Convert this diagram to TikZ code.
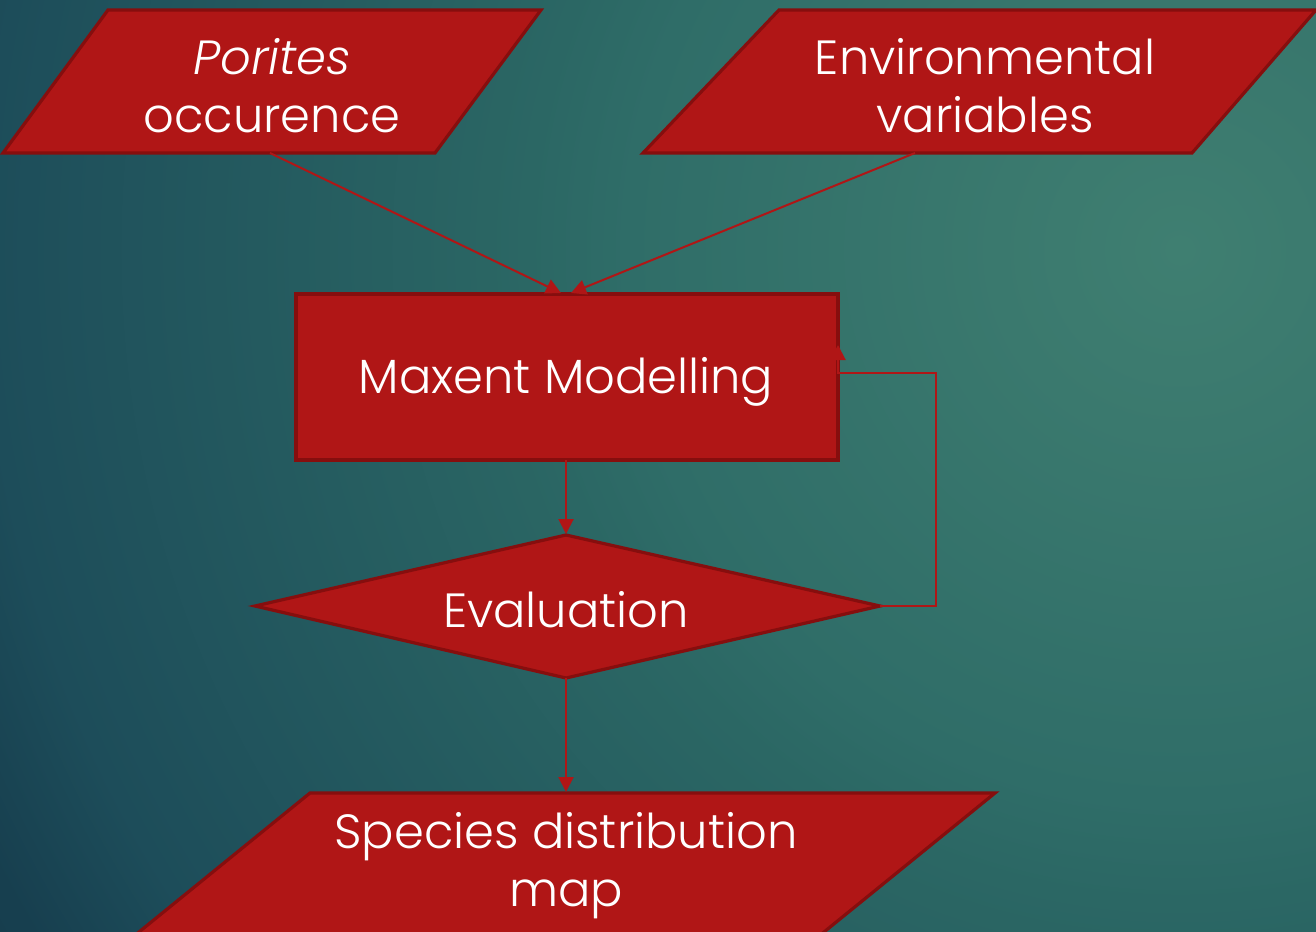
\documentclass[tikz,border=0pt]{standalone}
\usepackage{fontspec}
\setmainfont{Poppins}[UprightFont=* Light, ItalicFont=* Light Italic]
\usetikzlibrary{arrows.meta}
\definecolor{boxfill}{HTML}{B01616}
\definecolor{boxline}{HTML}{860E0E}
\definecolor{bgA}{HTML}{3F7F71}
\definecolor{bgB}{HTML}{3C7B6F}
\definecolor{bgC}{HTML}{2F6D68}
\definecolor{bgD}{HTML}{2B6764}
\definecolor{bgE}{HTML}{1D4D5A}
\definecolor{bgF}{HTML}{173F4F}
\definecolor{bgG}{HTML}{153B4B}
% backdrop glow, stops given at natural size
\pgfdeclareradialshading{backdrop}{\pgfpoint{0bp}{0bp}}{%
  color(0bp)=(bgA); color(60bp)=(bgB); color(275bp)=(bgC); color(325bp)=(bgD);
  color(595bp)=(bgE); color(665bp)=(bgF); color(750bp)=(bgG)}
\tikzset{
  box/.style={fill=boxfill, draw=boxline, line width=1.6pt, line join=miter},
  caption/.style={text=white, font=\fontsize{24}{29}\selectfont, align=center, inner sep=0pt},
  flow/.style={draw=boxfill, line width=1pt, -{Triangle[length=7.5pt,width=7.5pt]}}
}
\begin{document}
\begin{tikzpicture}[x=0.5pt,y=-0.5pt]
\useasboundingbox (0,0) rectangle (1316,931);
% background
\begin{scope}
  \clip (0,0) rectangle (1316,931);
  \node[inner sep=0pt, outer sep=0pt] (glow) at (1180,250) {\pgfuseshading{backdrop}};
\end{scope}

% input parallelograms
\draw[box] (108,10) -- (541,10) -- (435,153) -- (3,153) -- cycle;
\coordinate (porB) at (270,153);
\node[caption] (por) at (272,86) {\itshape Porites\\occurence};

\draw[box] (779,10) -- (1316,10) -- (1192,153) -- (643,153) -- cycle;
\coordinate (envB) at (915,153);
\node[caption] (env) at (985,86) {Environmental\\variables};

% modelling box
\draw[box] (296,294) rectangle (838,460);
\node[caption] (mm) at (566,382) {Maxent Modelling};
\coordinate (mmTL) at (561,293);
\coordinate (mmTR) at (571,293);
\coordinate (mmB) at (566,460);
\coordinate (mmR) at (838,373);
\coordinate (mmRtip) at (838,345);

% evaluation diamond
\draw[box] (255,606) -- (566,535) -- (880,606) -- (566,678) -- cycle;
\node[caption] (ev) at (566,610) {Evaluation};
\coordinate (evT) at (566,534);
\coordinate (evR) at (880,606);
\coordinate (evB) at (566,678);
\coordinate (loop) at (936,606);

% output parallelogram
\draw[box] (310,793) -- (995,793) -- (808,945) -- (123,945) -- cycle;
\node[caption] (sdm) at (566,866) {Species distribution\\map};
\coordinate (sdmT) at (566,792);

% connectors
\draw[flow] (porB) -- (mmTL);
\draw[flow] (envB) -- (mmTR);
\draw[flow] (mmB) -- (evT);
\draw[flow] (evR) -- (loop) |- (mmR) -- (mmRtip);
\draw[flow] (evB) -- (sdmT);
\end{tikzpicture}
\end{document}
